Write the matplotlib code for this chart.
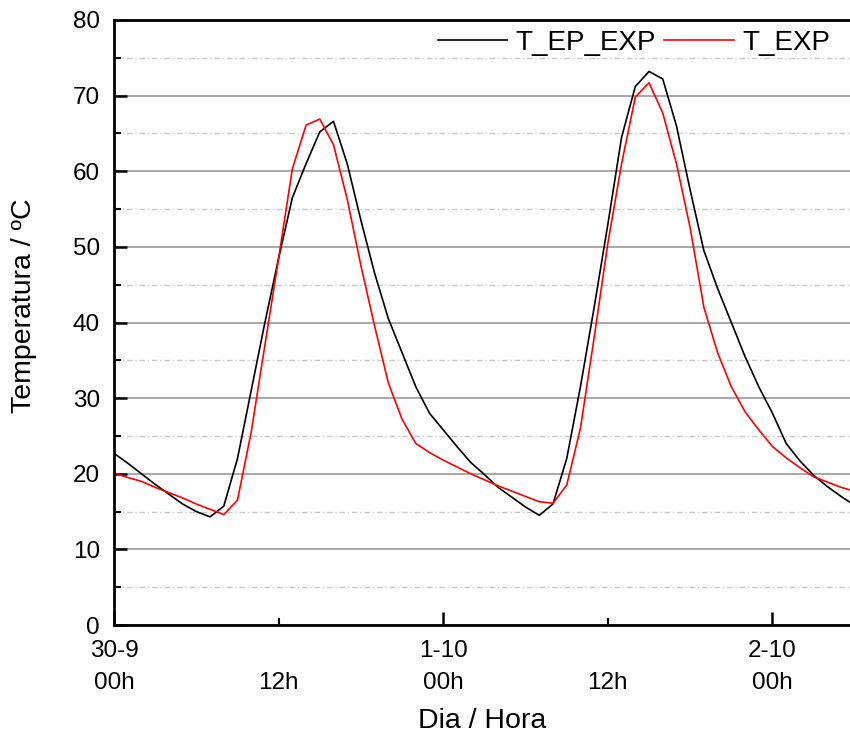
import matplotlib
matplotlib.use('Agg')
import matplotlib.pyplot as plt
from matplotlib.ticker import MultipleLocator, FixedLocator
import numpy as np

plt.rcParams['font.family'] = ['Liberation Sans', 'DejaVu Sans']

# hours since 30-9 00h
hours = list(range(0, 55))

t_ep_exp = [22.7, 21.4, 20.0, 18.6, 17.3, 16.0, 15.0, 14.3, 15.7, 22.0,
            31.0, 40.0, 48.5, 56.5, 61.0, 65.2, 66.6, 61.0, 53.5, 46.5,
            40.5, 36.0, 31.5, 28.0, 25.8, 23.6, 21.5, 19.9, 18.2, 16.9,
            15.6, 14.5, 16.0, 22.0, 31.5, 42.0, 53.0, 64.5, 71.2, 73.2,
            72.2, 66.0, 57.5, 49.5, 44.5, 40.0, 35.5, 31.5, 28.0, 24.0,
            21.7, 19.8, 18.3, 17.0, 15.8]

t_exp = [20.1, 19.5, 19.0, 18.2, 17.5, 16.8, 16.0, 15.3, 14.6, 16.5,
         25.5, 37.0, 48.5, 60.3, 66.1, 66.9, 63.5, 56.3, 47.5, 39.5,
         32.0, 27.2, 24.0, 22.8, 21.8, 20.9, 20.0, 19.2, 18.4, 17.7,
         17.0, 16.3, 16.1, 18.5, 26.0, 38.0, 50.5, 61.0, 69.8, 71.7,
         67.7, 61.0, 52.5, 42.0, 36.0, 31.5, 28.2, 25.8, 23.6, 22.1,
         20.8, 19.6, 18.9, 18.2, 17.7]

day_ticks = [0, 24, 48]
day_labels = ['30-9\n00h', '1-10\n00h', '2-10\n00h']
noon_ticks = [12, 36]
noon_labels = ['\n12h', '\n12h']

fig = plt.figure(figsize=(8.5, 7.35), dpi=100)
ax = fig.add_axes([114/850, 110/735, 736/850, 605/735])

ax.plot(hours, t_ep_exp, color='black', lw=1.2, label='T_EP_EXP')
ax.plot(hours, t_exp, color='red', lw=1.2, label='T_EXP')

ax.set_xlim(0, 53.65)
ax.set_ylim(0, 80)

ax.yaxis.set_major_locator(MultipleLocator(10))
ax.yaxis.set_minor_locator(MultipleLocator(5))
ax.xaxis.set_major_locator(FixedLocator(day_ticks))
ax.xaxis.set_minor_locator(FixedLocator(noon_ticks))
ax.set_xticklabels(day_labels)
ax.set_xticklabels(noon_labels, minor=True)

ax.grid(axis='y', which='major', color='#a0a0a0', lw=1.3, ls='-')
ax.grid(axis='y', which='minor', color='#c8c8c8', lw=1.0, ls=(0, (4, 2, 1, 2)))
ax.set_axisbelow(True)

ax.tick_params(axis='both', which='major', direction='in', length=9.5, width=1.8,
               labelsize=17.5, pad=10.5)
ax.tick_params(axis='both', which='minor', direction='in', length=5, width=1.5,
               labelsize=17.5, pad=10.5)
ax.tick_params(axis='y', which='both', pad=10)
for lab in ax.get_xticklabels() + ax.get_xticklabels(minor=True):
    lab.set_linespacing(1.6)

for side in ['left', 'bottom', 'top']:
    ax.spines[side].set_linewidth(2.0)
ax.spines['right'].set_visible(False)

ax.set_xlabel('Dia / Hora', fontsize=20.5)
ax.set_ylabel('Temperatura / ºC', fontsize=20.5)
ax.xaxis.set_label_coords(0.5, -0.137)
ax.yaxis.set_label_coords(-0.105, 0.527)

ax.legend(loc='center right', bbox_to_anchor=(0.973, 0.962), ncol=2,
          frameon=False, fontsize=20, handlelength=2.5, handletextpad=0.3,
          columnspacing=0.3, borderpad=0, borderaxespad=0)

fig.savefig('out.png', dpi=100)
